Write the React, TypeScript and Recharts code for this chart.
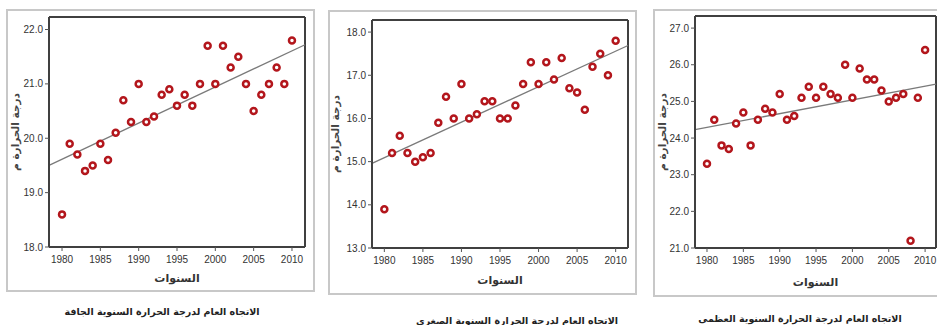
import React from "react";
import { ScatterChart, Scatter, XAxis, YAxis, ReferenceLine } from "recharts";

const years = [
  1980, 1981, 1982, 1983, 1984, 1985, 1986, 1987, 1988, 1989, 1990, 1991, 1992, 1993, 1994, 1995,
  1996, 1997, 1998, 1999, 2000, 2001, 2002, 2003, 2004, 2005, 2006, 2007, 2008, 2009, 2010,
];
const yearTicks = [1980, 1985, 1990, 1995, 2000, 2005, 2010];

// درجة الحرارة الجافة
const dryTemp = [
  18.6, 19.9, 19.7, 19.4, 19.5, 19.9, 19.6, 20.1, 20.7, 20.3, 21.0, 20.3, 20.4, 20.8, 20.9, 20.6,
  20.8, 20.6, 21.0, 21.7, 21.0, 21.7, 21.3, 21.5, 21.0, 20.5, 20.8, 21.0, 21.3, 21.0, 21.8,
];
const dryTicks = [18, 19, 20, 21, 22];
const dryTrend = [19.5, 21.72];

// الصغرى
const minTemp = [
  13.9, 15.2, 15.6, 15.2, 15.0, 15.1, 15.2, 15.9, 16.5, 16.0, 16.8, 16.0, 16.1, 16.4, 16.4, 16.0,
  16.0, 16.3, 16.8, 17.3, 16.8, 17.3, 16.9, 17.4, 16.7, 16.6, 16.2, 17.2, 17.5, 17.0, 17.8,
];
const minTicks = [13, 14, 15, 16, 17, 18];
const minTrend = [14.96, 17.69];

// العظمى
const maxTemp = [
  23.3, 24.5, 23.8, 23.7, 24.4, 24.7, 23.8, 24.5, 24.8, 24.7, 25.2, 24.5, 24.6, 25.1, 25.4, 25.1,
  25.4, 25.2, 25.1, 26.0, 25.1, 25.9, 25.6, 25.6, 25.3, 25.0, 25.1, 25.2, 21.2, 25.1, 26.4,
];
const maxTicks = [21, 22, 23, 24, 25, 26, 27];
const maxTrend = [24.23, 25.47];

const yTitle = "درجة الحرارة م";
const xTitle = "السنوات";

const RED = "#b3161c";
const BOX = "#404040";
const ARABIC = "'DejaVu Sans', sans-serif";

type Box = { l: number; t: number; r: number; b: number };

type PanelProps = {
  values: number[];
  trend: number[];
  yTicks: number[];
  xDomain: [number, number];
  yDomain: [number, number];
  frame: Box;
  box: Box;
  titleY: number;
  captionY: number;
  captionX: number;
  yTitleX: number;
  caption: string;
};

function Ring(props: any) {
  const { cx, cy } = props;
  if (cx == null || cy == null) return null;
  return <circle cx={cx} cy={cy} r={3} fill="#fff" stroke={RED} strokeWidth={2.5} />;
}

function Panel(p: PanelProps) {
  const data = years.map((y, i) => ({ year: y, temp: p.values[i] }));
  const yAxisW = 40;
  const xAxisH = 20;
  const chartLeft = p.box.l - yAxisW - 5;
  const width = p.box.r - chartLeft + 5;
  const height = p.box.b + xAxisH + 5;
  const tickStyle = { fontSize: 10, fill: "#333", fontFamily: "'Liberation Sans', Arial, sans-serif" };

  return (
    <>
      <div
        style={{
          position: "absolute",
          left: p.frame.l,
          top: p.frame.t,
          width: p.frame.r - p.frame.l,
          height: p.frame.b - p.frame.t,
          border: "2px solid #c8c8c8",
          boxSizing: "border-box",
        }}
      />
      <div style={{ position: "absolute", left: chartLeft, top: 0 }}>
        <ScatterChart width={width} height={height} margin={{ top: p.box.t, left: 5, right: 5, bottom: 5 }}>
          <XAxis
            type="number"
            dataKey="year"
            domain={p.xDomain}
            ticks={yearTicks}
            allowDataOverflow
            height={xAxisH}
            axisLine={{ stroke: BOX, strokeWidth: 2 }}
            tickSize={4}
            tickMargin={5}
            tickLine={{ stroke: "#555" }}
            tick={tickStyle}
            interval={0}
          />
          <YAxis
            type="number"
            dataKey="temp"
            domain={p.yDomain}
            ticks={p.yTicks}
            allowDataOverflow
            width={yAxisW}
            axisLine={{ stroke: BOX, strokeWidth: 2 }}
            tickSize={4}
            tickLine={{ stroke: "#555" }}
            tick={tickStyle}
            interval={0}
            tickFormatter={(v: number) => v.toFixed(1)}
          />
          <ReferenceLine y={p.yDomain[1]} stroke={BOX} strokeWidth={2} ifOverflow="visible" />
          <ReferenceLine x={p.xDomain[1]} stroke={BOX} strokeWidth={2} ifOverflow="visible" />
          <ReferenceLine
            segment={[
              { x: p.xDomain[0], y: p.trend[0] },
              { x: p.xDomain[1], y: p.trend[1] },
            ]}
            stroke="#7a7a7a"
            strokeWidth={1.3}
            ifOverflow="visible"
          />
          <Scatter data={data} shape={Ring} isAnimationActive={false} />
        </ScatterChart>
      </div>
      <div
        style={{
          position: "absolute",
          left: (p.box.l + p.box.r) / 2 - 60,
          width: 120,
          top: p.titleY - 8,
          textAlign: "center",
          fontFamily: ARABIC,
          fontSize: 11,
          fontWeight: "bold",
          color: "#333",
          direction: "rtl",
          lineHeight: "16px",
        }}
      >
        {xTitle}
      </div>
      <div
        style={{
          position: "absolute",
          left: p.yTitleX - 60,
          top: (p.box.t + p.box.b) / 2 - 8,
          width: 120,
          textAlign: "center",
          fontFamily: ARABIC,
          fontSize: 10.5,
          fontWeight: "bold",
          color: "#444",
          direction: "rtl",
          lineHeight: "16px",
          transform: "rotate(-90deg)",
        }}
      >
        {yTitle}
      </div>
      <div
        style={{
          position: "absolute",
          left: p.captionX - 130,
          width: 260,
          top: p.captionY - 8,
          textAlign: "center",
          fontFamily: ARABIC,
          fontSize: 9.5,
          fontWeight: "bold",
          color: "#222",
          direction: "rtl",
          lineHeight: "16px",
          whiteSpace: "nowrap",
        }}
      >
        {p.caption}
      </div>
    </>
  );
}

export default function App() {
  return (
    <div
      style={{
        position: "absolute",
        left: 0,
        top: 0,
        width: 937,
        height: 325,
        overflow: "hidden",
        background: "#fff",
      }}
    >
      <Panel
        values={dryTemp}
        trend={dryTrend}
        yTicks={dryTicks}
        xDomain={[1978.3, 2011.7]}
        yDomain={[18, 22.23]}
        frame={{ l: 6, t: 9, r: 315, b: 292 }}
        box={{ l: 49, t: 17, r: 305, b: 247 }}
        titleY={279}
        captionY={312}
        captionX={162}
        yTitleX={15}
        caption="الاتجاه العام لدرجة الحرارة السنوية الجافة"
      />
      <Panel
        values={minTemp}
        trend={minTrend}
        yTicks={minTicks}
        xDomain={[1978.4, 2011.6]}
        yDomain={[13, 18.28]}
        frame={{ l: 328, t: 10, r: 637, b: 295 }}
        box={{ l: 372, t: 20, r: 628, b: 248 }}
        titleY={281}
        captionY={321}
        captionX={517}
        yTitleX={335}
        caption="الاتجاه العام لدرجة الحرارة السنوية الصغرى"
      />
      <Panel
        values={maxTemp}
        trend={maxTrend}
        yTicks={maxTicks}
        xDomain={[1978.35, 2011.5]}
        yDomain={[21, 27.33]}
        frame={{ l: 653, t: 9, r: 960, b: 297 }}
        box={{ l: 695, t: 16, r: 936, b: 248 }}
        titleY={283}
        captionY={319}
        captionX={800}
        yTitleX={662}
        caption="الاتجاه العام لدرجة الحرارة السنوية العظمى"
      />
    </div>
  );
}
